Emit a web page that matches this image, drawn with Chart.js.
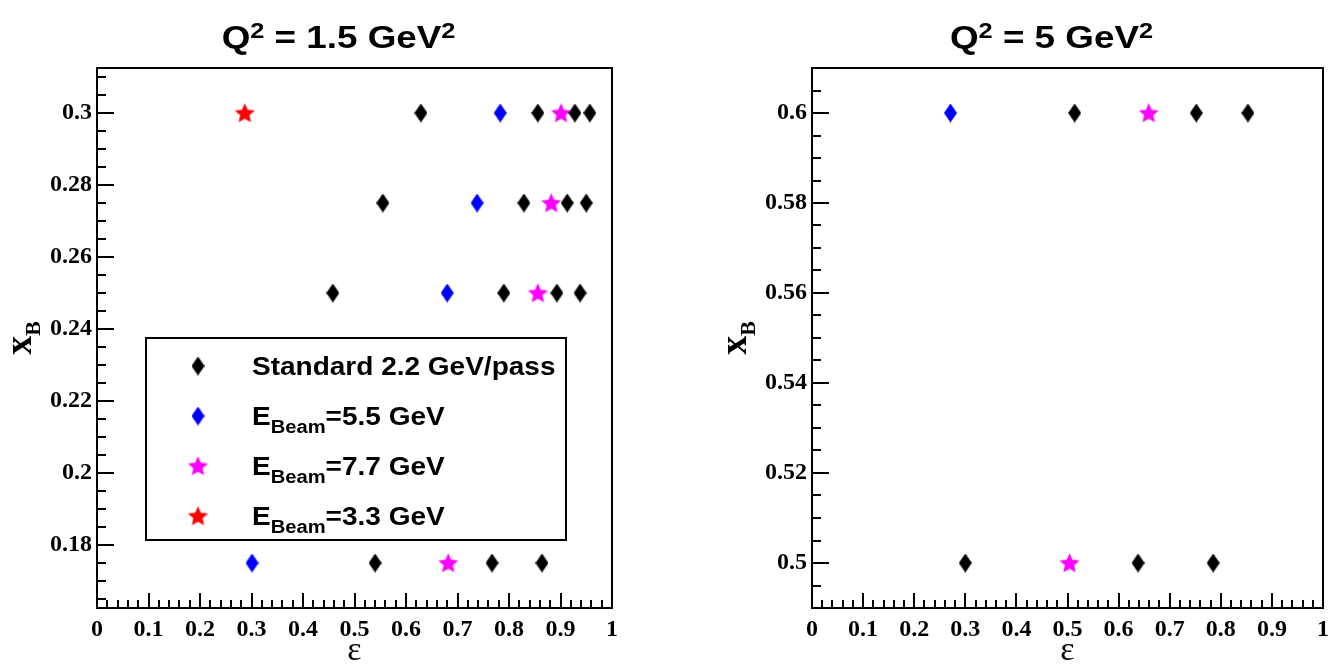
<!DOCTYPE html>
<html>
<head>
<meta charset="utf-8">
<script src="https://cdn.jsdelivr.net/npm/chart.js@4.4.0/dist/chart.umd.min.js"></script>
<style>
  html, body { margin: 0; padding: 0; background: #fff; }
  #wrap { position: relative; width: 1336px; height: 666px; }
  .panel { position: absolute; top: 0; width: 668px; height: 666px; }
</style>
</head>
<body>
<div id="wrap">
  <div class="panel" style="left:0"><canvas id="chartLow" width="668" height="666"></canvas></div>
  <div class="panel" style="left:668px"><canvas id="chartHigh" width="668" height="666"></canvas></div>
</div>
<script>
// Q^2 = 1.5 GeV^2 kinematics
const lowStdEps = [0.629, 0.856, 0.928, 0.957, 0.555, 0.829, 0.913, 0.950, 0.458, 0.790, 0.893, 0.938, 0.540, 0.767, 0.864];
const lowStdXb  = [0.3, 0.3, 0.3, 0.3, 0.275, 0.275, 0.275, 0.275, 0.25, 0.25, 0.25, 0.25, 0.175, 0.175, 0.175];
const lowE55Eps = [0.783, 0.738, 0.680, 0.301];
const lowE55Xb  = [0.3, 0.275, 0.25, 0.175];
const lowE77Eps = [0.901, 0.882, 0.856, 0.682];
const lowE77Xb  = [0.3, 0.275, 0.25, 0.175];
const lowE33Eps = [0.287];
const lowE33Xb  = [0.3];

// Q^2 = 5 GeV^2 kinematics
const highStdEps = [0.514, 0.752, 0.853, 0.300, 0.638, 0.785];
const highStdXb  = [0.6, 0.6, 0.6, 0.5, 0.5, 0.5];
const highE55Eps = [0.271];
const highE55Xb  = [0.6];
const highE77Eps = [0.659, 0.504];
const highE77Xb  = [0.6, 0.5];

// axis ticks
const epsTicks = [0, 0.1, 0.2, 0.3, 0.4, 0.5, 0.6, 0.7, 0.8, 0.9, 1];
const epsTickLabels = ['0', '0.1', '0.2', '0.3', '0.4', '0.5', '0.6', '0.7', '0.8', '0.9', '1'];
const lowXbTicks = [0.18, 0.2, 0.22, 0.24, 0.26, 0.28, 0.3];
const lowXbTickLabels = ['0.18', '0.2', '0.22', '0.24', '0.26', '0.28', '0.3'];
const highXbTicks = [0.5, 0.52, 0.54, 0.56, 0.58, 0.6];
const highXbTickLabels = ['0.5', '0.52', '0.54', '0.56', '0.58', '0.6'];

const SANS = '"Liberation Sans", Arial, sans-serif';
const SERIF = '"Liberation Serif", "Times New Roman", serif';

// marker images (ROOT style full diamond / full star)
function diamondMarker(color) {
  const c = document.createElement('canvas');
  c.width = 13; c.height = 19;
  const g = c.getContext('2d');
  g.fillStyle = color;
  g.beginPath();
  g.moveTo(6.5, 0); g.lineTo(13, 9.5); g.lineTo(6.5, 19); g.lineTo(0, 9.5);
  g.closePath();
  g.fill();
  return c;
}
function starMarker(color) {
  const c = document.createElement('canvas');
  c.width = 21; c.height = 21;
  const g = c.getContext('2d');
  g.fillStyle = color;
  g.beginPath();
  for (let i = 0; i < 10; i++) {
    const a = -Math.PI / 2 + i * Math.PI / 5;
    const r = i % 2 ? 4.9 : 10.5;
    const px = 10.5 + r * Math.cos(a), py = 11.3 + r * Math.sin(a);
    i ? g.lineTo(px, py) : g.moveTo(px, py);
  }
  g.closePath();
  g.fill();
  return c;
}

const blackDiamond = diamondMarker('#000000');
const blueDiamond = diamondMarker('#0000ff');
const magentaStar = starMarker('#ff00ff');
const redStar = starMarker('#ff0000');

function toPoints(xs, ys) {
  return xs.map((v, i) => ({ x: v, y: ys[i] }));
}

// draws text made of pieces (base, sub, sup) with a horizontal stretch
function drawRuns(ctx, runs, x, y, family, stretch, align) {
  ctx.save();
  ctx.translate(x, y);
  ctx.scale(stretch, 1);
  ctx.textAlign = 'left';
  ctx.textBaseline = 'alphabetic';
  let w = 0;
  runs.forEach(r => {
    ctx.font = `bold ${r.size}px ${family}`;
    w += ctx.measureText(r.t).width;
  });
  let cx = align === 'center' ? -w / 2 : 0;
  runs.forEach(r => {
    ctx.font = `bold ${r.size}px ${family}`;
    ctx.fillText(r.t, cx, r.dy || 0);
    cx += ctx.measureText(r.t).width;
  });
  ctx.restore();
}

// frame, inward tick marks, titles and legend
const rootFrame = {
  id: 'rootFrame',
  afterDraw(chart, args, opts) {
    const { ctx, chartArea: a, scales: { x, y } } = chart;
    ctx.save();
    ctx.strokeStyle = '#000';
    ctx.lineWidth = 2;
    ctx.strokeRect(a.left, a.top, a.right - a.left, a.bottom - a.top);

    ctx.beginPath();
    const drawTicks = (scale, majorStep, nDiv, majorLen, minorLen, horizontal) => {
      const minor = majorStep / nDiv;
      const k0 = Math.ceil(scale.min / minor - 1e-6);
      const k1 = Math.floor(scale.max / minor + 1e-6);
      for (let k = k0; k <= k1; k++) {
        const v = k * minor;
        const isMajor = Math.abs(v / majorStep - Math.round(v / majorStep)) < 1e-6;
        const len = isMajor ? majorLen : minorLen;
        const p = Math.round(scale.getPixelForValue(v));
        if (horizontal) {
          ctx.moveTo(p, a.bottom);
          ctx.lineTo(p, a.bottom - len);
        } else {
          ctx.moveTo(a.left, p);
          ctx.lineTo(a.left + len, p);
        }
      }
    };
    drawTicks(x, 0.1, 5, 15, 8, true);
    drawTicks(y, 0.02, 4, 17, 9, false);
    ctx.stroke();

    ctx.fillStyle = '#000';
    const midX = (a.left + a.right) / 2;
    const midY = (a.top + a.bottom) / 2;

    // title
    drawRuns(ctx, opts.title, midX - 16, 48, SANS, 1.15, 'center');

    // x axis title
    ctx.font = `34px ${SERIF}`;
    ctx.textAlign = 'center';
    ctx.textBaseline = 'alphabetic';
    ctx.fillText('ε', midX, 660);

    // y axis title, rotated
    ctx.save();
    ctx.translate(a.left - 75, midY);
    ctx.rotate(-Math.PI / 2);
    drawRuns(ctx, [{ t: 'x', size: 38 }, { t: 'B', size: 22, dy: 9 }], 0, 9, SERIF, 1, 'center');
    ctx.restore();

    // legend box
    if (opts.legend) {
      const L = opts.legend;
      ctx.lineWidth = 2;
      ctx.strokeRect(L.left, L.top, L.right - L.left, L.bottom - L.top);
      chart.data.datasets.forEach((ds, i) => {
        const base = L.firstBaseline + i * L.rowStep;
        const img = ds.pointStyle;
        ctx.drawImage(img, L.markerX - img.width / 2, base - 9 - img.height / 2);
        drawRuns(ctx, ds.legendRuns, L.textX, base, SANS, 1.12, 'left');
      });
    }
    ctx.restore();
  }
};

function makeChart(id, datasets, yMin, yMax, yTicks, yLabels, padding, yWidth, extra) {
  return new Chart(document.getElementById(id), {
    type: 'scatter',
    data: { datasets },
    options: {
      responsive: false,
      animation: false,
      events: [],
      layout: { padding },
      scales: {
        x: {
          type: 'linear',
          min: 0,
          max: 1,
          afterBuildTicks: s => { s.ticks = epsTicks.map(v => ({ value: v })); },
          afterFit: s => { s.height = 58; },
          ticks: {
            callback: (v, i) => epsTickLabels[i],
            font: { family: SERIF, size: 24, weight: 'bold' },
            color: '#000',
            padding: 7,
            maxRotation: 0,
            autoSkip: false
          },
          grid: { display: false, drawTicks: false },
          border: { display: false }
        },
        y: {
          type: 'linear',
          min: yMin,
          max: yMax,
          afterBuildTicks: s => { s.ticks = yTicks.map(v => ({ value: v })); },
          afterFit: s => { s.width = yWidth; },
          ticks: {
            callback: (v, i) => yLabels[i],
            font: { family: SERIF, size: 24, weight: 'bold' },
            color: '#000',
            padding: 5,
            autoSkip: false
          },
          grid: { display: false, drawTicks: false },
          border: { display: false }
        }
      },
      plugins: {
        legend: { display: false },
        tooltip: { enabled: false },
        rootFrame: extra
      }
    },
    plugins: [rootFrame]
  });
}

function series(label, runs, xs, ys, marker) {
  return {
    label,
    legendRuns: runs,
    data: toPoints(xs, ys),
    pointStyle: marker,
    pointRadius: 9,
    showLine: false
  };
}

const beamRuns = txt => [{ t: 'E', size: 25 }, { t: 'Beam', size: 18, dy: 8 }, { t: txt, size: 25 }];

makeChart('chartLow', [
  series('Standard 2.2 GeV/pass', [{ t: 'Standard 2.2 GeV/pass', size: 25 }], lowStdEps, lowStdXb, blackDiamond),
  series('EBeam=5.5 GeV', beamRuns('=5.5 GeV'), lowE55Eps, lowE55Xb, blueDiamond),
  series('EBeam=7.7 GeV', beamRuns('=7.7 GeV'), lowE77Eps, lowE77Xb, magentaStar),
  series('EBeam=3.3 GeV', beamRuns('=3.3 GeV'), lowE33Eps, lowE33Xb, redStar)
], 0.1625, 0.3125, lowXbTicks, lowXbTickLabels,
  { left: 0, right: 56, top: 68, bottom: 0 }, 97,
  {
    title: [{ t: 'Q', size: 32 }, { t: '2', size: 22, dy: -10 }, { t: ' = 1.5 GeV', size: 32 }, { t: '2', size: 22, dy: -10 }],
    legend: { left: 146, top: 338, right: 566, bottom: 540, markerX: 198, textX: 252, firstBaseline: 375, rowStep: 50 }
  });

makeChart('chartHigh', [
  series('Standard 2.2 GeV/pass', [{ t: 'Standard 2.2 GeV/pass', size: 25 }], highStdEps, highStdXb, blackDiamond),
  series('EBeam=5.5 GeV', beamRuns('=5.5 GeV'), highE55Eps, highE55Xb, blueDiamond),
  series('EBeam=7.7 GeV', beamRuns('=7.7 GeV'), highE77Eps, highE77Xb, magentaStar)
], 0.49, 0.61, highXbTicks, highXbTickLabels,
  { left: 0, right: 8, top: 68, bottom: 0 }, 144,
  {
    title: [{ t: 'Q', size: 32 }, { t: '2', size: 22, dy: -10 }, { t: ' = 5 GeV', size: 32 }, { t: '2', size: 22, dy: -10 }],
    legend: null
  });
</script>
</body>
</html>
